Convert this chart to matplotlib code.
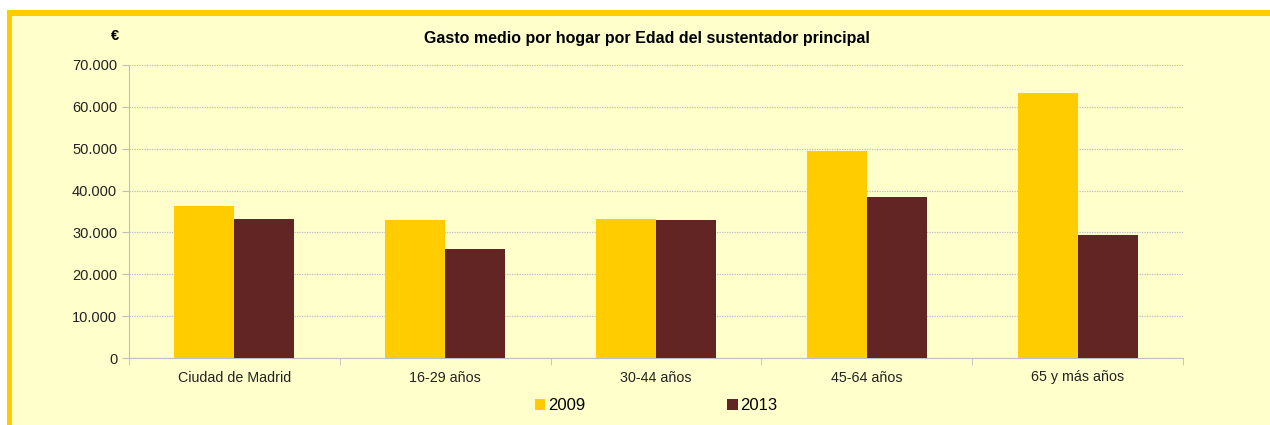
import numpy as np
import matplotlib.pyplot as plt
from matplotlib.patches import Rectangle
from matplotlib.ticker import FuncFormatter

plt.rcParams['font.family'] = ['Liberation Sans', 'DejaVu Sans']

categories = ['Ciudad de Madrid', '16-29 años', '30-44 años', '45-64 años', '65 y más años']
gasto_2009 = [36300, 32900, 33300, 49450, 63300]
gasto_2013 = [33200, 26100, 33000, 38400, 29500]

color_2009 = '#FFCC00'
color_2013 = '#632523'

fig = plt.figure(figsize=(12.7, 4.25), dpi=100)
fig.patch.set_facecolor('white')

# yellow frame and pale background
fig.patches.append(Rectangle((7/1270, -0.1), 1.2, 0.1 + 415/425, transform=fig.transFigure,
                             facecolor=color_2009, edgecolor='none', zorder=-10))
fig.patches.append(Rectangle((12/1270, -0.1), 1.2, 0.1 + 409/425, transform=fig.transFigure,
                             facecolor='#FFFFCC', edgecolor='none', zorder=-9))

ax = fig.add_axes([129/1270, 67/425, 1054/1270, 293/425])
ax.set_facecolor('none')

x_pos = np.arange(len(categories))
w = 0.285
ax.bar(x_pos - w/2, gasto_2009, width=w, color=color_2009, label='2009', zorder=3)
ax.bar(x_pos + w/2, gasto_2013, width=w, color=color_2013, label='2013', zorder=3)

ax.set_xlim(-0.5, len(categories) - 0.5)
ax.set_ylim(0, 70000)
ax.set_yticks(np.arange(0, 70001, 10000))
ax.yaxis.set_major_formatter(FuncFormatter(lambda v, p: f'{int(v):,}'.replace(',', '.')))
ax.set_xticks(x_pos)
ax.set_xticklabels(categories)
ax.set_xticks(np.arange(-0.5, len(categories)), minor=True)
ax.tick_params(axis='x', which='major', length=0, pad=9, labelsize=10.3, colors='#222222')
ax.tick_params(axis='x', which='minor', length=5, color='#BFBFBF', direction='out')
ax.tick_params(axis='y', length=5, color='#BFBFBF', pad=3.5, labelsize=10.5, labelcolor='#222222')

ax.yaxis.grid(True, linestyle=(0, (1, 1)), color='#BBBBCC', linewidth=0.9, zorder=0)
for s in ['top', 'right']:
    ax.spines[s].set_visible(False)
for s in ['left', 'bottom']:
    ax.spines[s].set_color('#BFBFBF')

fig.text(647/1270, 1 - 38/425, 'Gasto medio por hogar por Edad del sustentador principal',
         ha='center', va='center', fontsize=11.5, fontweight='bold')
fig.text(115/1270, 1 - 36/425, '€', ha='center', va='center', fontsize=10.5, fontweight='bold')

fig.legend(loc='center', bbox_to_anchor=(656/1270, 1 - 406/425), ncol=2, frameon=False,
           fontsize=12, handlelength=0.65, handleheight=0.65, handletextpad=0.15,
           columnspacing=8.5)

plt.savefig('out.png', dpi=100)
